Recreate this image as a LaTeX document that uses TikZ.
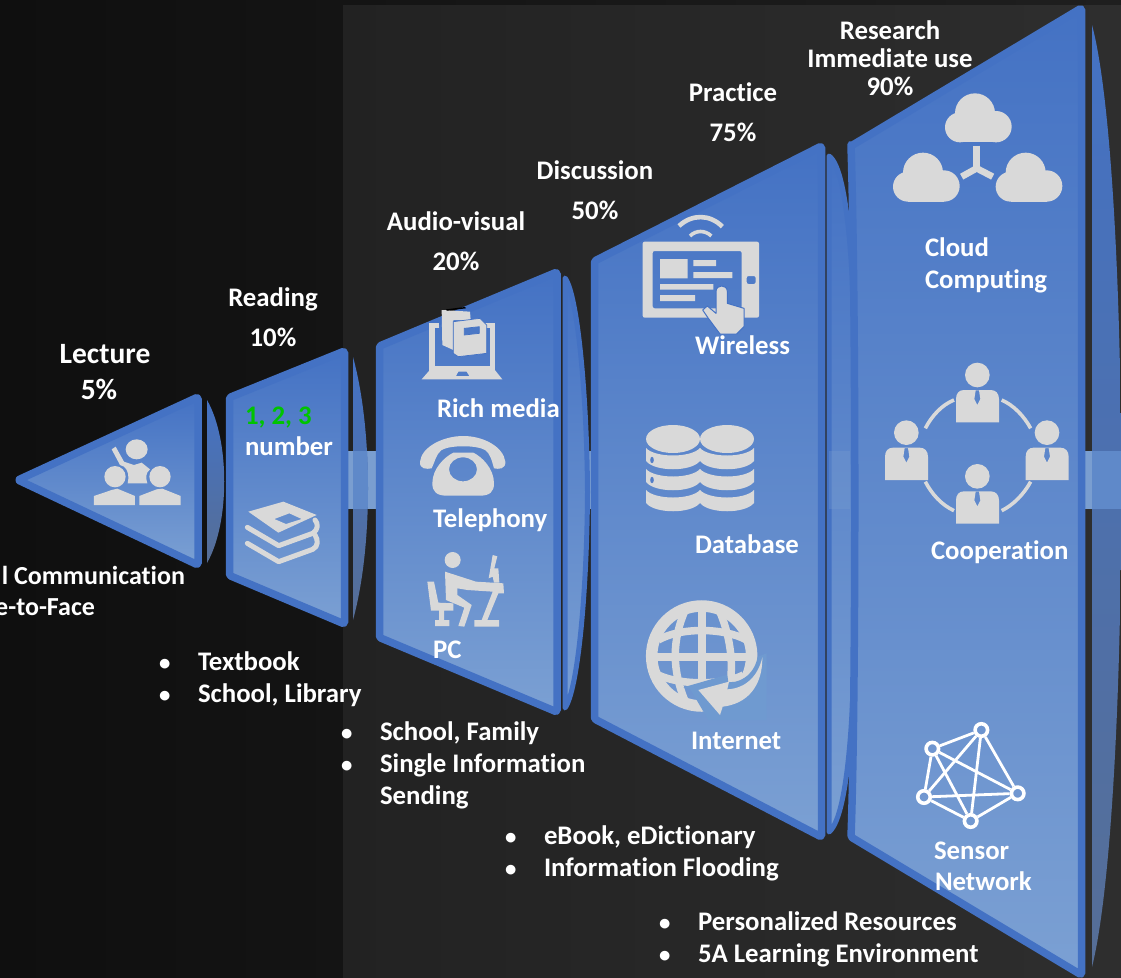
\documentclass[tikz,border=0pt]{standalone}
\usepackage{fontspec}
\setmainfont[Ligatures=NoCommon]{Carlito}
\definecolor{shapeblue}{HTML}{4472C4}
\definecolor{shapelight}{HTML}{7BA0D3}
\definecolor{lensmid}{HTML}{4E6A9E}
\definecolor{lensbot}{HTML}{566E96}
\definecolor{bandlight}{HTML}{7A9ED0}
\definecolor{banddark}{HTML}{5F89C9}
\definecolor{iconcol}{HTML}{D9D9D9}
\definecolor{greentxt}{HTML}{00C400}
\definecolor{bgleft}{HTML}{0F0F0F}
\definecolor{bgmid}{HTML}{1F1F1F}
\definecolor{bgright}{HTML}{222222}
\definecolor{bgfar}{HTML}{2E2E2E}
\definecolor{globemask}{HTML}{6F9AD0}
\tikzset{
  lbl/.style={text=white,font=\fontsize{26.8}{30}\selectfont\bfseries,inner sep=0pt,outer sep=0pt,yshift=-0.7pt},
  lblc/.style={lbl,anchor=base},
  lblbig/.style={lblc,font=\fontsize{29.5}{32}\selectfont\bfseries},
  lbll/.style={lbl,anchor=base west},
  lblr/.style={lbl,anchor=base east,font=\fontsize{26}{30}\selectfont\bfseries},
  stage/.style={top color=shapeblue,bottom color=shapelight,draw=shapeblue,line width=7.5pt,line join=round,rounded corners=1.5pt},
  lensflat/.style={top color=shapeblue,middle color=lensmid,bottom color=lensbot,draw=none},
  lensring/.style={top color=shapeblue,bottom color=shapelight,draw=shapeblue,line width=5pt,line join=round},
  iconfill/.style={fill=iconcol,draw=none},
  iconline/.style={draw=iconcol,line cap=butt},
  sensornode/.style={circle,draw=white,line width=3.6pt,fill=none,inner sep=0pt,minimum size=12.5pt},
  sensorlink/.style={draw=white,line width=2.8pt},
}
\newcommand\cloudicon[2]{%
  \begin{scope}[shift={(#1,#2)}]
    \fill[iconfill] (360,382) circle (45);
    \fill[iconfill] (468,380) circle (47);
    \fill[iconfill] (405,340) circle (60);
    \fill[iconfill] (360,360) rectangle (468,427);
  \end{scope}}
\newcommand\personicon[2]{%
  \begin{scope}[shift={(#1,#2)}]
    \fill[iconfill] (0,0) circle (37);
    \fill[iconfill,even odd rule] (-64,142) -- (-64,72) .. controls (-64,55) and (-55,45) .. (-40,45)
      -- (40,45) .. controls (55,45) and (65,55) .. (65,72) -- (65,142) -- cycle
      (-5,46) -- (5,46) -- (9,72) -- (0,90) -- (-9,72) -- cycle;
  \end{scope}}
\newcommand\dbstack[2]{%
  \fill[iconfill] (#1,#2) ellipse (27 and 14);
  \foreach \yy in {448,469,490}{
    \fill[iconfill] (#1-27,\yy) .. controls (#1-18,\yy+10) and (#1+18,\yy+10) .. (#1+27,\yy)
      -- (#1+27,\yy+13) .. controls (#1+18,\yy+24) and (#1-18,\yy+24) .. (#1-27,\yy+13) -- cycle;
  }}
\newcommand\blt{\makebox[39pt][l]{\scalebox{.85}{•}}}
\begin{document}
\begin{tikzpicture}[x=1pt,y=-1pt]
\useasboundingbox (0,0) rectangle (1121,977);
% backgrounds
\shade[left color=bgleft,right color=bgmid] (0,0) rectangle (1121,977);
\shade[left color=bgright,right color=bgfar] (343,5) rectangle (1121,977);

% light band pieces
\fill[bandlight] (348,451) rectangle (376,509);
\fill[bandlight] (586,451) rectangle (592,509);
\fill[bandlight] (1085,451) rectangle (1092,509);

% lenses
\path[lensflat] (207,400) .. controls (230,440) and (230,523) .. (207,563) -- cycle;
\path[lensflat] (353,357) .. controls (373,430) and (373,547) .. (353,620) -- cycle;
\begin{scope}
  \clip (353,357) .. controls (373,430) and (373,547) .. (353,620) -- cycle;
  \fill[banddark] (348,451) rectangle (376,509);
\end{scope}
\path[lensring] (565,278) .. controls (578,295) and (587,400) .. (587.5,492)
   .. controls (587,590) and (578,690) .. (565,708) -- cycle;
\path[lensring] (829,156) .. controls (850,170) and (858,300) .. (854,495)
   .. controls (858,690) and (850,815) .. (829,832) -- cycle;
\fill[bandlight,opacity=.3] (829,451) rectangle (850,509);
\path[lensflat] (1092,25) .. controls (1131,170) and (1131,810) .. (1092,967) -- cycle;
\begin{scope}
  \clip (1092,25) .. controls (1131,170) and (1131,810) .. (1092,967) -- cycle;
  \fill[banddark] (1085,451) rectangle (1121,509);
\end{scope}

% stages
\path[stage] (18,480) -- (198,397) -- (198,565) -- cycle;
\path[stage] (229.5,397.5) -- (344.5,351) -- (344.5,624) -- (229.5,575.5) -- cycle;
\path[stage] (379.5,346) -- (557,272) -- (557,712) -- (379.5,637.5) -- cycle;
\path[stage] (594.5,261) -- (821.5,146) -- (821.5,837) -- (594.5,719) -- cycle;
\path[stage] (851,146) -- (1081.5,8) -- (1081.5,975) -- (851,837) .. controls (856,700) and (856,300) .. (851,146) -- cycle;

% ---- icon: lecture
\begin{scope}[shift={(0,330)},scale=1/3]
  \fill[iconfill] (410,358) ellipse (33 and 30);
  \fill[iconfill] (345,440) circle (32);
  \fill[iconfill] (480,440) circle (32);
  \fill[iconfill] (335,358) -- (347,350) -- (372,395) -- (402,405) -- (425,398) -- (450,418) .. controls (435,430) and (438,445) .. (442,460)
     -- (383,460) .. controls (388,440) and (385,420) .. (372,410) -- (360,405) -- cycle;
  \fill[iconfill] (282,525) -- (282,498) -- (335,480) -- (352,476) -- (405,498) -- (405,525) -- cycle;
  \fill[iconfill] (418,525) -- (418,498) -- (470,478) -- (487,476) -- (542,498) -- (542,525) -- cycle;
\end{scope}
% ---- icon: books
\begin{scope}[shift={(0,330)},scale=1/3]
  \fill[iconfill,even odd rule] (745,545) -- (850,515) -- (950,555) -- (835,608) -- cycle
     (823,567) -- (868,550) -- (905,567) -- (858,582) -- cycle;
  \draw[iconline,line width=5pt,line cap=round,line join=round] (742,592) -- (836,647) -- (938,610) .. controls (955,600) and (955,580) .. (945,570);
  \draw[iconline,line width=5pt,line cap=round,line join=round] (742,640) -- (836,695) -- (938,658) .. controls (955,650) and (955,630) .. (945,615);
\end{scope}
% ---- icons in stage 3
\begin{scope}[shift={(370,260)},scale=1/3]
  % laptop
  \draw[iconline,line width=5.6pt] (208,196) -- (186,196) -- (186,325) -- (368,325) -- (368,196) -- (345,196);
  \fill[iconfill,even odd rule] (155,358) -- (190,318) -- (365,318) -- (397,358) -- cycle
     (258,348) -- (265,335) -- (290,335) -- (298,348) -- cycle;
  % books
  \fill[iconfill] (215,150) -- (300,155) -- (302,180) -- (250,180) -- (250,270) -- (217,255) -- cycle;
  \fill[black] (228,148) -- (285,141) -- (288,145) -- (232,152) -- cycle;
  \filldraw[fill=iconcol,draw=shapeblue,line width=.7pt,even odd rule] (250,185) -- (330,175) -- (350,195) -- (350,280) -- (265,290) -- (250,280) -- cycle
     (283,205) -- (328,200) -- (328,220) -- (283,225) -- cycle;
  % telephone
  \fill[iconfill] (150,605) .. controls (155,560) and (220,528) .. (280,528) .. controls (340,528) and (400,560) .. (406,605)
     .. controls (408,628) and (385,628) .. (372,625) .. controls (365,600) and (360,580) .. (345,570)
     .. controls (320,555) and (240,555) .. (215,570) .. controls (198,582) and (195,605) .. (185,625)
     .. controls (170,628) and (148,628) .. (150,605) -- cycle;
  \fill[iconfill,even odd rule] (250,578) -- (310,578) .. controls (335,590) and (372,625) .. (372,670)
     .. controls (372,695) and (360,707) .. (330,707) -- (230,707) .. controls (200,707) and (187,695) .. (187,670)
     .. controls (187,625) and (225,590) .. (250,578) -- cycle
     (279,628) ellipse (42 and 36);
  % person at desk
  \fill[iconfill] (248,900) circle (24);
  \fill[iconfill] (225,935) -- (318,965) -- (400,970) -- (402,1000) -- (385,1000) -- (352,1080) -- (387,1080) -- (387,1100)
     -- (313,1100) -- (313,1080) -- (335,1080) -- (368,995) -- (292,990) -- (262,985) -- (262,1005) -- (305,1035) -- (283,1100)
     -- (265,1098) -- (283,1043) -- (228,1020) -- cycle;
  \fill[iconfill] (172,965) -- (192,965) -- (205,1028) -- (250,1030) -- (250,1052) -- (222,1052) -- (222,1080) -- (238,1080)
     -- (238,1098) -- (195,1098) -- (195,1080) -- (207,1080) -- (207,1052) -- (183,1052) -- cycle;
  \fill[iconfill] (368,885) -- (382,889) -- (373,925) -- (385,925) -- (388,968) -- (372,968) -- (368,950) -- (356,955) -- cycle;
\end{scope}
% ---- icon: tablet
\begin{scope}[shift={(590,140)},scale=1/3]
  \fill[iconfill,even odd rule,rounded corners=2pt] (158,305) rectangle (507,533)
     (188,333) rectangle (455,505)
     (470,408) rectangle (497,432);
  \fill[iconfill] (210,357) rectangle (293,415) (310,360) rectangle (378,378) (310,396) rectangle (427,414)
     (210,432) rectangle (370,449) (210,465) rectangle (315,483);
  \draw[iconline,line width=4.6pt] (267,258) .. controls (305,222) and (360,222) .. (397,260);
  \draw[iconline,line width=3.6pt] (300,288) .. controls (318,270) and (345,270) .. (364,288);
  \filldraw[fill=iconcol,draw=shapeblue,line width=1pt,line join=round] (378,455) .. controls (378,432) and (412,432) .. (412,455)
     -- (412,490) -- (462,505) -- (462,560) -- (440,582) -- (390,582) -- (355,535) -- (338,510) -- (352,498) -- (378,520) -- cycle;
\end{scope}
% ---- icon: database
\dbstack{673}{439}
\dbstack{727}{439}
\foreach \yy in {460,480}{\fill[shapeblue!75!shapelight] (652,\yy) ellipse (1.8 and 3.2);}
% ---- icon: globe
\begin{scope}[shift={(590,500)},scale=1/3]
  \draw[iconline,line width=11.5pt] (335,468) circle (150);
  \draw[iconline,line width=8pt] (190,471) -- (480,471);
  \draw[iconline,line width=7.5pt] (336,325) -- (336,610);
  \draw[iconline,line width=7.5pt] (205,420) .. controls (270,382) and (400,382) .. (470,420);
  \draw[iconline,line width=7.5pt] (205,525) .. controls (270,556) and (400,556) .. (460,525);
  \draw[iconline,line width=7.5pt] (288,325) .. controls (245,420) and (245,510) .. (288,610);
  \draw[iconline,line width=7.5pt] (385,325) .. controls (428,420) and (428,510) .. (420,545);
  \fill[globemask] (280,562) -- (412,524) -- (415,547) -- (437,545) .. controls (475,535) and (497,505) .. (503,470)
     -- (530,460) -- (530,660) -- (355,660) -- (300,566) -- cycle;
  \fill[iconfill] (325,570) -- (417,545) -- (412,568) .. controls (470,565) and (505,525) .. (517,472)
     .. controls (518,560) and (470,612) .. (398,620) -- (390,645) -- cycle;
\end{scope}
% ---- icon: clouds
\begin{scope}[shift={(840,0)},scale=1/3]
  \cloudicon{0}{0}
  \cloudicon{-156}{178}
  \cloudicon{152}{178}
  \draw[iconline,line width=6.6pt] (410,437) -- (410,513);
  \draw[iconline,line width=6.6pt] (365,530) -- (410,505) -- (458,530);
\end{scope}
% ---- icon: people
\begin{scope}[shift={(840,340)},scale=1/3]
  \personicon{412}{105}
  \personicon{199}{278}
  \personicon{621}{278}
  \personicon{412}{409}
  \draw[iconline,line width=3.6pt] (342,180) .. controls (305,195) and (275,228) .. (256,265);
  \draw[iconline,line width=3.6pt] (485,180) .. controls (520,195) and (552,228) .. (572,265);
  \draw[iconline,line width=3.6pt] (256,425) .. controls (275,462) and (305,495) .. (342,512);
  \draw[iconline,line width=3.6pt] (572,425) .. controls (552,462) and (520,495) .. (485,512);
\end{scope}
% ---- icon: sensor network
\begin{scope}[shift={(840,660)},scale=1/3]
  \node[sensornode] (sa) at (277,266) {};
  \node[sensornode] (sb) at (424,210) {};
  \node[sensornode] (sc) at (533,400) {};
  \node[sensornode] (sd) at (392,483) {};
  \node[sensornode] (se) at (252,411) {};
  \draw[sensorlink] (sa) -- (sb);
  \draw[sensorlink] (sb) -- (sc);
  \draw[sensorlink] (sc) -- (sd);
  \draw[sensorlink] (sd) -- (se);
  \draw[sensorlink] (se) -- (sa);
  \draw[sensorlink] (sa) -- (sc);
  \draw[sensorlink] (sa) -- (sd);
  \draw[sensorlink] (sb) -- (se);
  \draw[sensorlink] (sb) -- (sd);
  \draw[sensorlink] (se) -- (sc);
\end{scope}

% ---- labels
\node[lblbig] (lecture) at (105,362.5) {Lecture};
\node[lblbig] (lecturep) at (99,398.5) {5\%};
\node[lblc] (reading) at (273,306) {Reading};
\node[lblc] (readingp) at (273,346) {10\%};
\node[lblc] (audio) at (456,230) {Audio-visual};
\node[lblc] (audiop) at (456,270) {20\%};
\node[lblc] (discussion) at (595,179) {Discussion};
\node[lblc] (discussionp) at (595,219) {50\%};
\node[lblc] (practice) at (733,101) {Practice};
\node[lblc] (practicep) at (733,141) {75\%};
\node[lblc] (research) at (890,39) {Research};
\node[lblc] (immediate) at (890,67) {Immediate use};
\node[lblc] (researchp) at (890,95) {90\%};
\node[lbll,text=greentxt] (onetwo) at (245,424) {1, 2, 3};
\node[lbll] (number) at (245,455) {number};
\node[lbll] (rich) at (437,417) {Rich media};
\node[lbll] (telephony) at (433,527) {Telephony};
\node[lbll] (pc) at (433,658) {PC};
\node[lbll] (wireless) at (695,354) {Wireless};
\node[lbll] (database) at (695,553) {Database};
\node[lbll] (internet) at (691,749) {Internet};
\node[lbll] (cloud) at (925,256) {Cloud};
\node[lbll] (computing) at (925,288) {Computing};
\node[lbll] (cooperation) at (931,559) {Cooperation};
\node[lbll] (sensor) at (934,859) {Sensor};
\node[lbll] (network) at (935,890) {Network};
\node[lblr] (commun) at (185,584) {l Communication};
\node[lblr] (face) at (95,615) {e-to-Face};
% bullet lists
\node[lbll] (l1a) at (159,670) {\blt Textbook};
\node[lbll] (l1b) at (159,702) {\blt School, Library};
\node[lbll] (l2a) at (341,740) {\blt School, Family};
\node[lbll] (l2b) at (341,772) {\blt Single Information};
\node[lbll] (l2c) at (380,804) {Sending};
\node[lbll] (l3a) at (505,844) {\blt eBook, eDictionary};
\node[lbll] (l3b) at (505,876) {\blt Information Flooding};
\node[lbll] (l4a) at (659,930) {\blt Personalized Resources};
\node[lbll] (l4b) at (659,962) {\blt 5A Learning Environment};
\end{tikzpicture}
\end{document}
